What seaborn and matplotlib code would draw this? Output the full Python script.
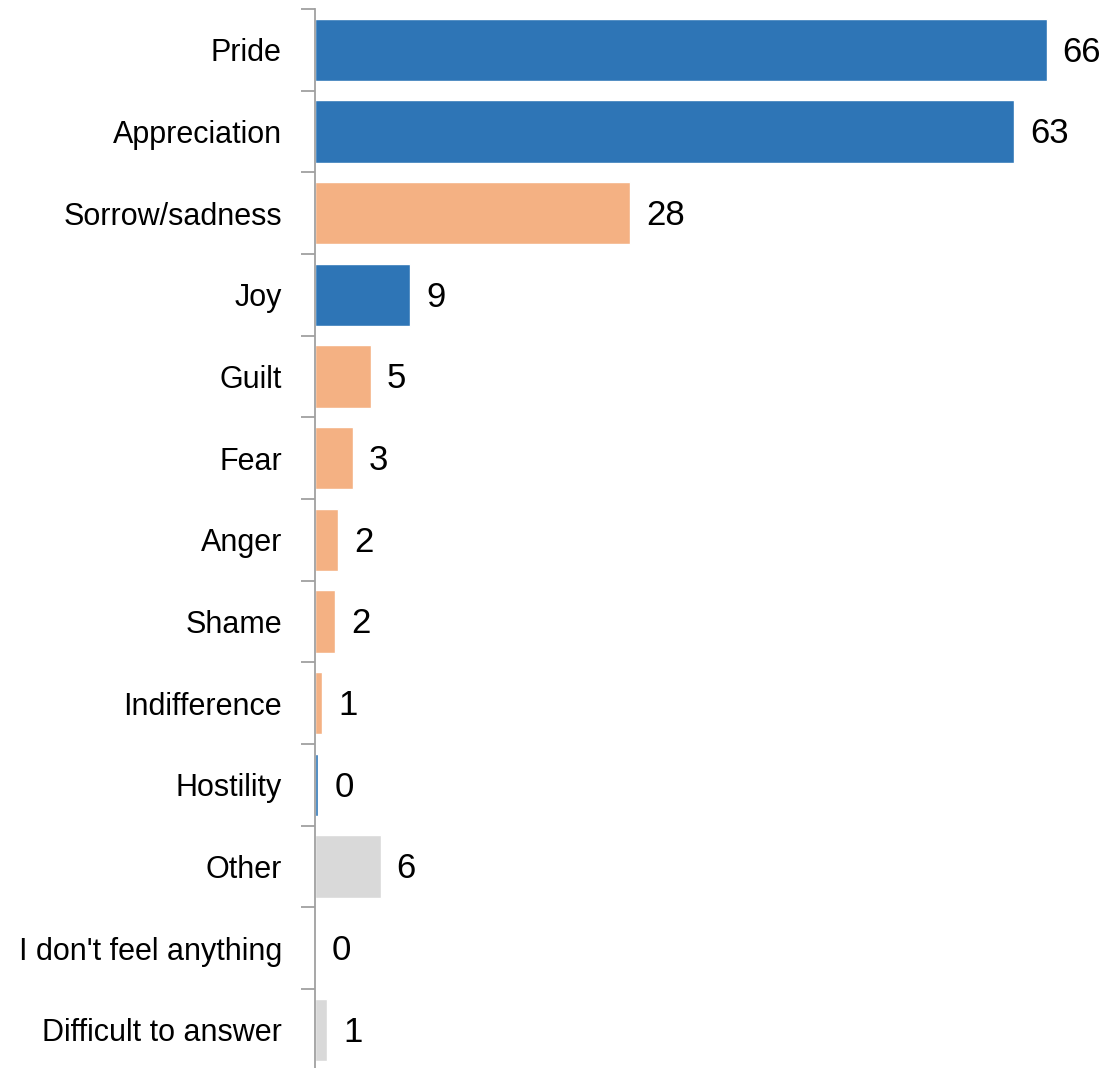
import matplotlib

matplotlib.use("Agg")
import matplotlib.pyplot as plt
import pandas as pd
import seaborn as sns
from matplotlib import font_manager

EMOTIONS = [
    "Pride",
    "Appreciation",
    "Sorrow/sadness",
    "Joy",
    "Guilt",
    "Fear",
    "Anger",
    "Shame",
    "Indifference",
    "Hostility",
    "Other",
    "I don't feel anything",
    "Difficult to answer",
]
# unrounded shares (bar lengths); labels show rounded values
SHARES = [66.0, 63.1, 28.4, 8.6, 5.0, 3.4, 2.1, 1.8, 0.6, 0.3, 5.9, 0.0, 1.1]
GROUPS = [
    "positive", "positive", "negative", "positive", "negative", "negative",
    "negative", "negative", "negative", "positive", "none", "none", "none",
]
GROUP_COLORS = {"positive": "#2E75B6", "negative": "#F4B183", "none": "#D9D9D9"}


def pick_font() -> str:
    names = {f.name for f in font_manager.fontManager.ttflist}
    for name in ["Liberation Sans Narrow", "Arial Narrow", "Liberation Sans"]:
        if name in names:
            return name
    return "DejaVu Sans"


def main() -> None:
    sns.set_style("white")
    plt.rcParams["font.family"] = [pick_font(), "DejaVu Sans"]

    df = pd.DataFrame({"emotion": EMOTIONS, "share": SHARES, "group": GROUPS})

    fig = plt.figure(figsize=(11.02, 10.68), dpi=100)
    ax = fig.add_axes([0.286, -0.0025, 0.714, 0.9941])

    sns.barplot(
        data=df,
        y="emotion",
        x="share",
        hue="group",
        palette=GROUP_COLORS,
        saturation=1,
        dodge=False,
        width=0.76,
        legend=False,
        ax=ax,
    )

    for i, v in enumerate(SHARES):
        ax.text(v + 1.45, i + 0.03, f"{v:.0f}", va="center", ha="left",
                fontsize=25, color="black")

    ax.set_xlim(0, 71)
    ax.set_ylim(len(EMOTIONS) - 0.5, -0.5)
    ax.set_xlabel("")
    ax.set_ylabel("")
    ax.set_xticks([])
    # major ticks sit between categories, names go on minor ticks
    ax.set_yticks([i - 0.5 for i in range(len(EMOTIONS) + 1)], minor=False)
    ax.set_yticklabels([])
    ax.set_yticks(range(len(EMOTIONS)), minor=True)
    ax.set_yticklabels(EMOTIONS, minor=True, fontsize=22, color="black")
    ax.tick_params(axis="y", which="major", left=True, length=10, width=1.3,
                   color="#A0A0A0", direction="out")
    ax.tick_params(axis="y", which="minor", left=True, length=0, pad=24)

    for side in ["top", "right", "bottom"]:
        ax.spines[side].set_visible(False)
    ax.spines["left"].set_color("#A0A0A0")
    ax.spines["left"].set_linewidth(1.3)

    fig.savefig("out.png", dpi=100)
    plt.close(fig)


if __name__ == "__main__":
    main()
